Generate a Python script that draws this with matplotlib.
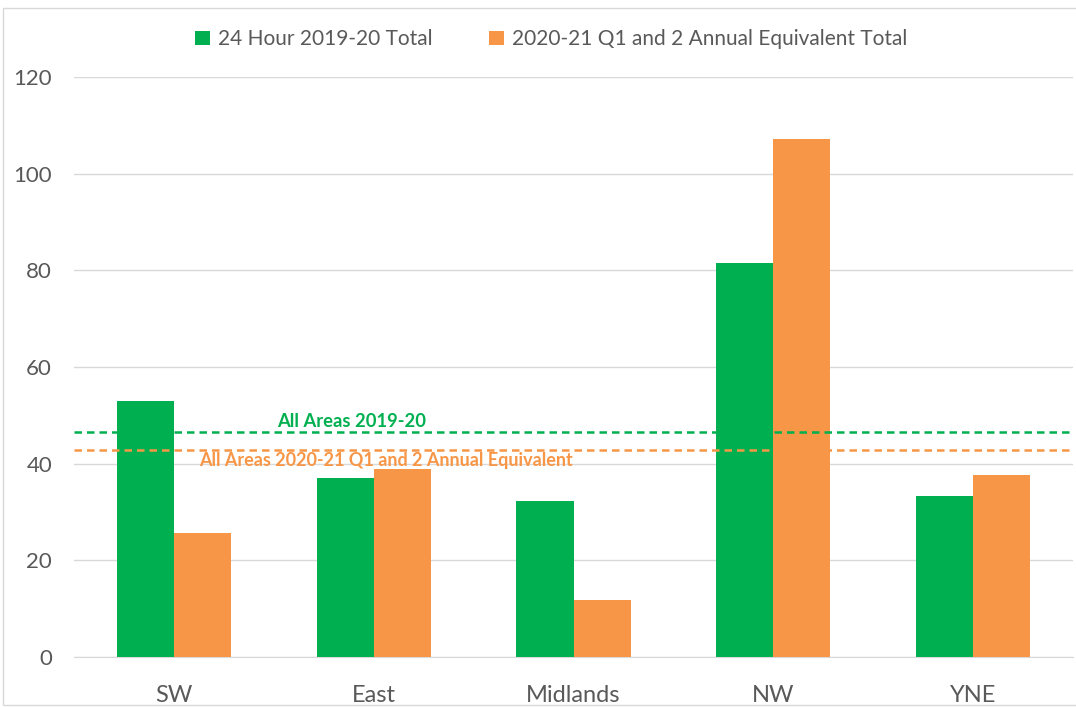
import numpy as np
import matplotlib.pyplot as plt
from matplotlib.patches import Rectangle

# %% Data
areas = ["SW", "East", "Midlands", "NW", "YNE"]
total_2019_20 = [53.0, 37.0, 32.3, 81.5, 33.3]
total_2020_21 = [25.7, 38.9, 11.8, 107.2, 37.7]
avg_2019_20 = 46.6
avg_2020_21 = 42.8

green = "#00B050"
orange = "#F79646"
grey_text = "#595959"

plt.rcParams['font.family'] = ['Lato', 'DejaVu Sans']

# %% Plot
fig = plt.figure(figsize=(10.76, 7.07), dpi=100)
ax = fig.add_axes([0.069, 0.071, 0.928, 0.820])

x = np.arange(len(areas))
width = 0.286
ax.bar(x - width / 2, total_2019_20, width, color=green,
       label="24 Hour 2019-20 Total", zorder=3)
ax.bar(x + width / 2, total_2020_21, width, color=orange,
       label="2020-21 Q1 and 2 Annual Equivalent Total", zorder=3)

# Average lines across all areas
ax.axhline(avg_2019_20, color=green, linestyle=(0, (3, 2)), linewidth=1.8, zorder=4)
ax.axhline(avg_2020_21, color=orange, linestyle=(0, (3, 2)), linewidth=1.8, zorder=4)
ax.text(0.89, avg_2019_20 + 0.4, "All Areas 2019-20", color=green,
        fontsize=13.2, fontweight='bold', ha='center', va='bottom', zorder=5)
ax.text(1.06, avg_2020_21 - 0.5, "All Areas 2020-21 Q1 and 2 Annual Equivalent",
        color=orange, fontsize=13, fontweight='bold', ha='center', va='top', zorder=5)

ax.set_xlim(-0.5, 4.5)
ax.set_ylim(0, 120)
ax.set_yticks(np.arange(0, 121, 20))
ax.set_xticks(x)
ax.set_xticklabels(areas)
ax.tick_params(axis='both', length=0, colors=grey_text)
ax.tick_params(axis='x', labelsize=17, pad=20)
ax.tick_params(axis='y', labelsize=16, pad=16)
ax.yaxis.grid(True, color="#D9D9D9", linewidth=1)
ax.set_axisbelow(True)
for side in ['top', 'right', 'left']:
    ax.spines[side].set_visible(False)
ax.spines['bottom'].set_color("#D9D9D9")

ax.legend(loc='upper center', bbox_to_anchor=(0.478, 1.115), ncol=2, frameon=False,
          fontsize=15, labelcolor=grey_text, handlelength=0.7, handleheight=0.7,
          columnspacing=2.7, handletextpad=0.4)

# Light frame around the chart
fig.patches.append(Rectangle((0.003, 0.003), 1.2, 0.985, transform=fig.transFigure,
                             fill=False, edgecolor="#D9D9D9", linewidth=1))

fig.savefig("out.png", dpi=100)
